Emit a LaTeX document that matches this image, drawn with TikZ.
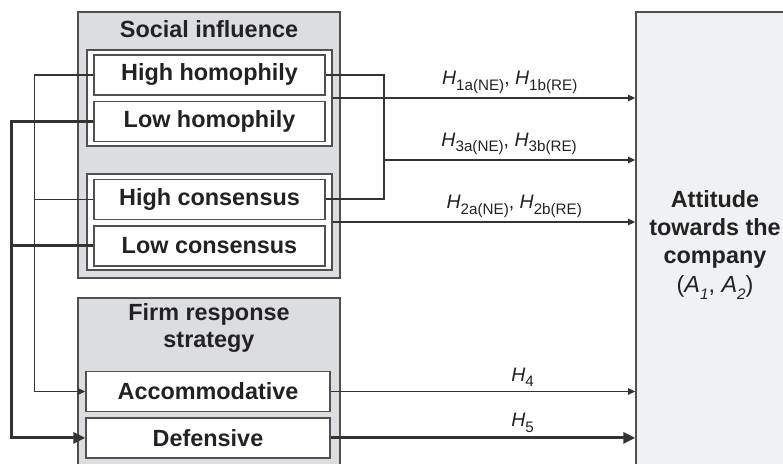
\documentclass[tikz,border=0pt]{standalone}
\usepackage{fontspec}
\setmainfont{Liberation Sans}
\usepackage{xcolor}
\definecolor{colorLine}{HTML}{333333}
\definecolor{colorFrame}{HTML}{505050}
\definecolor{colorPanel}{HTML}{DCDDE0}
\definecolor{colorTarget}{HTML}{F0F1F3}
\definecolor{colorText}{HTML}{222222}
\usepackage{tikz}
\usetikzlibrary{arrows.meta, positioning}
\newcommand{\hsub}[1]{\raisebox{-0.28em}{\fontsize{7.6}{8}\selectfont #1}}
\newcommand{\hyp}[1]{\textit{H}\hsub{#1}}
\tikzset{
  panel/.style={draw=colorFrame, fill=colorPanel, line width=0.7pt, inner sep=0pt},
  group/.style={draw=colorFrame, fill=white, line width=0.7pt, inner sep=0pt},
  level/.style={draw=colorFrame, fill=white, line width=0.7pt, inner sep=0pt,
    minimum width=115.5pt, minimum height=20pt, text=colorText,
    font=\bfseries\fontsize{11.7}{14}\selectfont},
  title/.style={text=colorText, align=center, inner sep=0pt,
    font=\bfseries\fontsize{11.7}{13.8}\selectfont},
  wire/.style={draw=colorLine, line width=0.6pt},
  midwire/.style={draw=colorLine, line width=1pt},
  thickwire/.style={draw=colorLine, line width=1.6pt},
  hlabel/.style={above, text=colorText, inner sep=2pt, font=\fontsize{9.75}{12}\selectfont},
}

\begin{document}
\begin{tikzpicture}[x=0.5pt, y=-0.5pt, node distance=2.5pt,
  >={Triangle[length=3.6pt, width=3.2pt]}]
\useasboundingbox (0,0) rectangle (783,464);
% panels
\node[panel, minimum width=131pt, minimum height=133pt] (social) at (209,145) {};
\node[panel, minimum width=131pt, minimum height=88.5pt] (firm) at (209,386.5) {};
\node[panel, fill=colorTarget, minimum width=82pt, minimum height=234pt] (att) at (718,246) {};
\node[title] (socialtitle) at (209,29) {Social influence};
\node[title] (firmtitle) at (209,328) {Firm response\\strategy};
\node[title, font=\bfseries\fontsize{11.7}{14}\selectfont] (atttext) at (715,245)
  {Attitude\\towards the\\company\\[0.5pt]{\mdseries(\textit{A\hsub{1}}, \textit{A\hsub{2}})}};
% groups
\node[group, minimum width=122.5pt, minimum height=48pt] (homgrp) at (209.5,98) {};
\node[group, minimum width=122.5pt, minimum height=48pt] (congrp) at (209.5,222) {};
% levels
\node[level] (hh) at (209.5,75) {High homophily};
\node[level, below=of hh] (lh) {Low homophily};
\node[level] (hc) at (209.5,199.5) {High consensus};
\node[level, below=of hc] (lc) {Low consensus};
\node[level, minimum width=122pt] (acc) at (208,391.5) {Accommodative};
\node[level, minimum width=122pt, below=of acc] (def) {Defensive};
% left side
\draw[wire, ->] (hh.west) -- ++(-59,0) |- (acc.west);
\draw[wire] (hc.west) -- ++(-59,0);
\draw[thickwire, -{Triangle[length=6pt, width=5.5pt]}] (lh.west) -- ++(-82,0) |- (def.west);
\draw[thickwire] (lc.west) -- ++(-82,0);
% right side
\draw[midwire] (hh.east) -- ++(58,0) |- (hc.east);
\coordinate (brk) at (383,160);
\draw[wire, ->] (homgrp.east) -- (homgrp.east -| att.west)
  node[hlabel, pos=0.585] {\hyp{1a(NE)}, \hyp{1b(RE)}};
\draw[midwire, ->] (brk) -- (brk -| att.west)
  node[hlabel, pos=0.5] {\hyp{3a(NE)}, \hyp{3b(RE)}};
\draw[wire, ->] (congrp.east) -- (congrp.east -| att.west)
  node[hlabel, pos=0.6] {\hyp{2a(NE)}, \hyp{2b(RE)}};
\draw[wire, ->] (acc.east) -- (acc.east -| att.west)
  node[hlabel, pos=0.63] {\hyp{4}};
\draw[thickwire, -{Triangle[length=6pt, width=5.5pt]}] (def.east) -- (def.east -| att.west)
  node[hlabel, pos=0.63] {\hyp{5}};
\end{tikzpicture}
\end{document}
